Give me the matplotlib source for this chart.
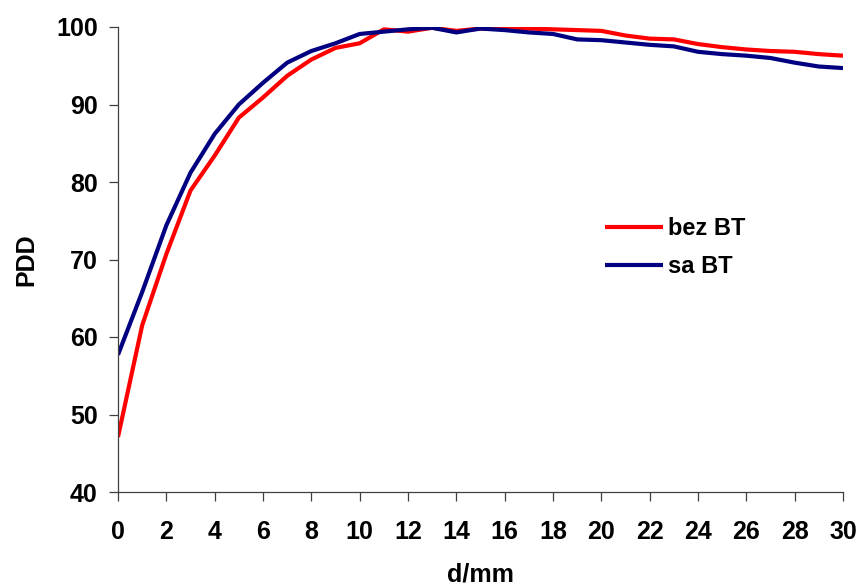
import matplotlib
matplotlib.use("Agg")
import matplotlib.pyplot as plt

plt.rcParams['font.family'] = ['Liberation Sans', 'DejaVu Sans']
plt.rcParams['font.weight'] = 'bold'

depth = list(range(0, 31))
bez_bt = [47.1, 61.5, 70.7, 78.9, 83.4, 88.3, 90.9, 93.7, 95.8, 97.3,
          97.9, 99.7, 99.4, 99.9, 99.5, 99.8, 99.8, 99.8, 99.7, 99.6,
          99.5, 98.9, 98.5, 98.4, 97.8, 97.4, 97.1, 96.9, 96.8, 96.5, 96.3]
sa_bt = [57.7, 65.8, 74.4, 81.2, 86.2, 90.0, 92.8, 95.4, 96.9, 97.9,
         99.1, 99.4, 99.7, 99.9, 99.3, 99.8, 99.6, 99.3, 99.1, 98.4,
         98.3, 98.0, 97.7, 97.5, 96.8, 96.5, 96.3, 96.0, 95.4, 94.9, 94.7]
series_labels = ["bez BT", "sa BT"]
x_ticks = list(range(0, 31, 2))
y_ticks = list(range(40, 101, 10))

fig = plt.figure(figsize=(8.6, 5.87), dpi=100)
ax = fig.add_axes([118/860, 1-492/587, (843-118)/860, (492-27)/587])

ax.plot(depth, bez_bt, color='#FF0000', lw=3.0, label=series_labels[0],
        solid_joinstyle='round', solid_capstyle='butt')
ax.plot(depth, sa_bt, color='#000080', lw=3.0, label=series_labels[1],
        solid_joinstyle='round', solid_capstyle='butt')

ax.set_xlim(0, 30)
ax.set_ylim(40, 100)
ax.set_xticks(x_ticks)
ax.set_yticks(y_ticks)
ax.spines['top'].set_visible(False)
ax.spines['right'].set_visible(False)
for s in ('left', 'bottom'):
    ax.spines[s].set_color('#404040')
    ax.spines[s].set_linewidth(0.9)
ax.tick_params(axis='both', direction='out', length=6.5, width=0.9,
               color='#404040', labelsize=18)
ax.tick_params(axis='x', pad=14)
ax.tick_params(axis='y', pad=8)
for lab in ax.get_xticklabels() + ax.get_yticklabels():
    lab.set_fontweight('bold')

ax.set_xlabel('d/mm', fontsize=18, fontweight='bold', labelpad=13)
ax.set_ylabel('PDD', fontsize=18, fontweight='bold', labelpad=13)

leg = ax.legend(loc='upper left', bbox_to_anchor=(605/860, 1-217/587),
                bbox_transform=fig.transFigure, frameon=False,
                prop={'size': 17, 'weight': 'bold'},
                handlelength=2.46, handletextpad=0.22, labelspacing=0.63,
                borderaxespad=0, borderpad=0)

fig.savefig('out.png', dpi=100)
